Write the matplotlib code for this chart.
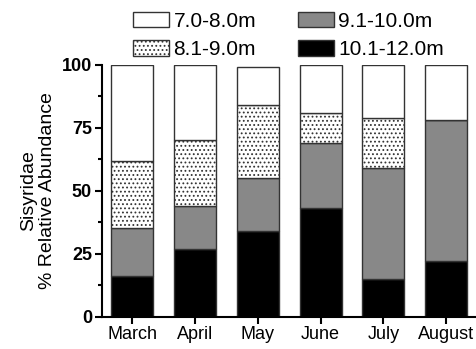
import matplotlib
matplotlib.use("Agg")
import matplotlib.pyplot as plt
import numpy as np

months = ["March", "April", "May", "June", "July", "August"]
depth_labels = ["7.0-8.0m", "8.1-9.0m", "9.1-10.0m", "10.1-12.0m"]
# % relative abundance per depth band (stacked bottom to top: deepest first)
d_10_12 = [16, 27, 34, 43, 15, 22]
d_9_10 = [19, 17, 21, 26, 44, 56]
d_8_9 = [27, 26, 29, 12, 20, 0]
d_7_8 = [38, 30, 15, 19, 21, 22]

plt.rcParams["font.family"] = ["Liberation Sans", "DejaVu Sans"]
plt.rcParams["hatch.color"] = "#666666"
plt.rcParams["hatch.linewidth"] = 0.8

fig = plt.figure(figsize=(4.77, 3.49), dpi=100)
ax = fig.add_axes([0.213, 0.093, 0.787, 0.721])

x = np.arange(len(months))
w = 0.67
edge = "#333333"
styles = {
    "10.1-12.0m": dict(color="black"),
    "9.1-10.0m": dict(color="#888888"),
    "8.1-9.0m": dict(color="white", hatch="...."),
    "7.0-8.0m": dict(color="white"),
}
handles = {}
bottom = np.zeros(len(months))
for label, vals in [("10.1-12.0m", d_10_12), ("9.1-10.0m", d_9_10),
                    ("8.1-9.0m", d_8_9), ("7.0-8.0m", d_7_8)]:
    st = styles[label]
    b = ax.bar(x, vals, w, bottom=bottom, facecolor=st["color"],
               hatch=st.get("hatch"), edgecolor=edge, linewidth=1.0,
               label=label)
    handles[label] = b
    bottom += np.array(vals)

ax.set_xlim(-0.49, 5.49)
ax.set_ylim(0, 100)
ax.set_yticks([0, 25, 50, 75, 100])
ax.set_yticks([12.5, 37.5, 62.5, 87.5], minor=True)
ax.set_xticks(x)
ax.set_xticklabels(months, fontsize=13)
for t in ax.get_yticklabels():
    t.set_fontsize(13)
    t.set_fontweight("bold")
ax.tick_params(axis="both", which="major", length=5, width=1.5, direction="out", pad=2)
ax.tick_params(axis="y", which="minor", length=3, width=1.5, direction="out")
for s in ["top", "right"]:
    ax.spines[s].set_visible(False)
for s in ["left", "bottom"]:
    ax.spines[s].set_linewidth(1.5)

ax.set_ylabel("Sisyridae\n% Relative Abundance", fontsize=14, linespacing=1.15, labelpad=4)

order = ["7.0-8.0m", "8.1-9.0m", "9.1-10.0m", "10.1-12.0m"]
fig.legend([handles[k] for k in order], order, loc="upper center",
           bbox_to_anchor=(0.605, 1.02), ncol=2, frameon=False, fontsize=15,
           handlelength=1.75, handleheight=0.75, handletextpad=0.2,
           columnspacing=2.0, labelspacing=0.45)

fig.savefig("out.png", dpi=100)
